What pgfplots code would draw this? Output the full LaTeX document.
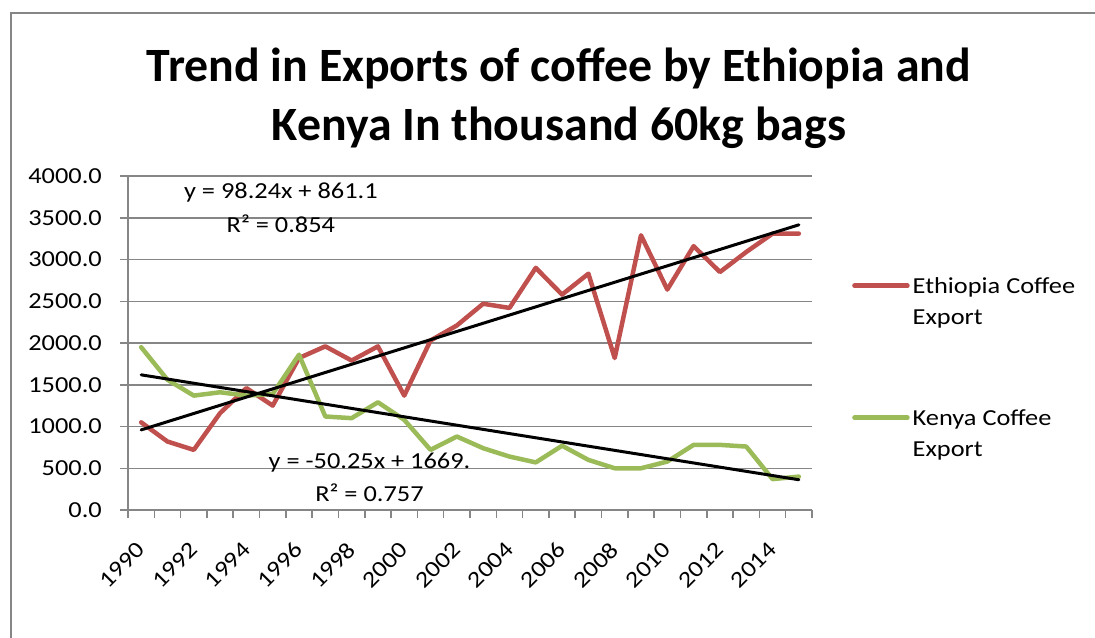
\documentclass[border=0pt]{standalone}
\usepackage{pgfplots}
\pgfplotsset{compat=1.18}
\usepackage{fontspec}
\setmainfont{Carlito}
\newfontfamily\smallfont[FakeStretch=1.15]{Carlito}
\newcommand\sm{\smallfont\fontsize{23}{23}\selectfont}
\definecolor{eth}{RGB}{192,80,77}
\definecolor{ken}{RGB}{155,187,89}
\definecolor{gridc}{RGB}{134,134,134}

\begin{document}
\begin{tikzpicture}
\useasboundingbox (0,0) rectangle (1095bp,-638bp);
\draw[gridc, line width=1.5bp] (11bp,-638bp) -- (11bp,-13bp) -- (1095bp,-13bp);
\node[font=\bfseries\fontsize{48}{59}\selectfont, align=center, anchor=base] at (559bp,-140bp)
  {Trend in Exports of coffee by Ethiopia and\\Kenya In thousand 60kg bags};
\begin{axis}[
  at={(128bp,-510bp)}, anchor=south west,
  scale only axis, width=684bp, height=334bp,
  xmin=0.5, xmax=26.5, ymin=0, ymax=4000,
  axis x line*=bottom, axis y line*=left,
  axis line style={gridc, line width=1.5bp, -},
  ytick={0,500,...,4000},
  scaled y ticks=false,
  /pgf/number format/.cd, fixed, fixed zerofill, precision=1, 1000 sep={}, assume math mode=true,
  /pgfplots/.cd,
  xtick={0.5,1.5,...,26.5},
  xticklabel={\phantom{0}},
  extra x ticks={1,3,...,25},
  extra x tick labels={1990,1992,1994,1996,1998,2000,2002,2004,2006,2008,2010,2012,2014},
  extra x tick style={grid=none, tick style={draw=none}},
  tick align=outside,
  major tick length=8bp,
  tick style={gridc, line width=1.5bp},
  ymajorgrids,
  grid style={gridc, line width=1.5bp},
  tick label style={font=\sm},
  yticklabel style={anchor=east, inner sep=0pt},
  yticklabel shift=18bp,
  xticklabel style={rotate=45, anchor=east, inner sep=0pt},
  xticklabel shift=28bp,
  legend cell align=left,
  legend style={draw=none, fill=none, inner sep=0pt, column sep=3bp, row sep=0pt,
    at={(1.0585,0.7186)}, anchor=north west,
    font=\sm,
    nodes={inner sep=0pt, text height=23bp, text depth=8bp}},
  legend image code/.code={\draw[#1] (0bp,0bp) -- (53bp,0bp);},
  every axis plot/.append style={line join=round, line cap=round},
]
\addplot[eth, line width=4.5bp] coordinates {
(1,1050) (2,820) (3,720) (4,1160) (5,1460) (6,1250) (7,1820) (8,1960) (9,1790) (10,1960)
(11,1370) (12,2030) (13,2210) (14,2470) (15,2420) (16,2900) (17,2580) (18,2830) (19,1820) (20,3290)
(21,2640) (22,3160) (23,2850) (24,3090) (25,3310) (26,3310)};
\addlegendentry{Ethiopia Coffee}
\addlegendimage{empty legend}
\addlegendentry{Export}
\addlegendimage{empty legend}
\addlegendentry[text height=70bp, text depth=0pt]{}
\addplot[ken, line width=4.5bp] coordinates {
(1,1950) (2,1560) (3,1370) (4,1410) (5,1370) (6,1390) (7,1860) (8,1120) (9,1100) (10,1290)
(11,1080) (12,720) (13,880) (14,740) (15,640) (16,570) (17,770) (18,600) (19,500) (20,500)
(21,580) (22,780) (23,780) (24,760) (25,370) (26,400)};
\addlegendentry{Kenya Coffee}
\addlegendimage{empty legend}
\addlegendentry{Export}
\addplot[black, line width=3bp, forget plot] coordinates {(1,959.3) (26,3415.3)};
\addplot[black, line width=3bp, forget plot] coordinates {(1,1618.8) (26,362.5)};
\node[font=\sm] at (axis cs:6.31,3798) {y = 98.24x + 861.1};
\node[font=\sm] at (axis cs:6.31,3426) {R² = 0.854};
\node[font=\sm] at (axis cs:9.68,570) {y = -50.25x + 1669.};
\node[font=\sm] at (axis cs:9.68,210) {R² = 0.757};
\end{axis}
\end{tikzpicture}
\end{document}
